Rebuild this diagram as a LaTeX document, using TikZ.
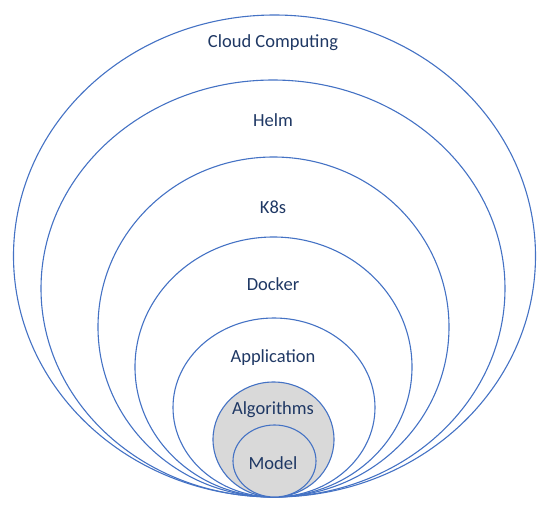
\documentclass[tikz,border=0pt]{standalone}
\usepackage{fontspec}
\setmainfont{Carlito}
\definecolor{ringblue}{RGB}{68,114,196}
\definecolor{labelnavy}{RGB}{31,56,100}
\definecolor{coregray}{RGB}{217,217,217}
\tikzset{
  ring/.style={draw=ringblue, line width=1.1pt},
  core/.style={ring, fill=coregray},
  layer/.style={text=labelnavy, font=\fontsize{18.5}{22}\selectfont, inner sep=0.75pt}
}
\begin{document}
\begin{tikzpicture}[x=1pt,y=1pt,yscale=-1,xscale=1]
    \useasboundingbox (0,0) rectangle (550,512);
    \draw [ring] (274.5,256) ellipse (261 and 241);
    \draw [ring] (273,288.5) ellipse (232 and 208.5);
    \draw [ring] (273.5,327) ellipse (175.5 and 170);
    \draw [ring] (273.5,367) ellipse (138.5 and 130);
    \draw [ring] (274,407.5) ellipse (101 and 89.5);
    \draw [core] (273.5,439.5) ellipse (60.5 and 57.5);
    \draw [core] (274.5,461) ellipse (41.5 and 36);
    \node [layer] (cloud) at (273,43) {Cloud Computing};
    \node [layer] (helm) at (273,120) {Helm};
    \node [layer] (k8s) at (273,207) {K8s};
    \node [layer] (docker) at (273,284) {Docker};
    \node [layer] (app) at (273,358) {Application};
    \node [layer] (algo) at (273,410) {Algorithms};
    \node [layer] (model) at (273,463) {Model};
\end{tikzpicture}
\end{document}
